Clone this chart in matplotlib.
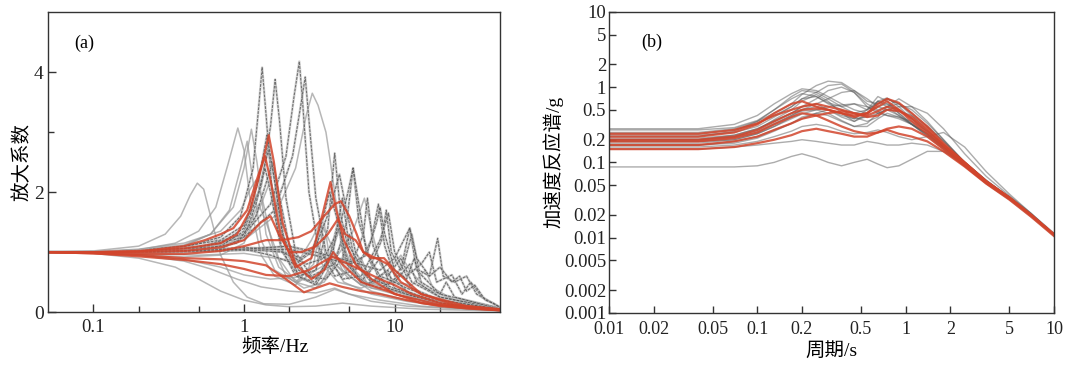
import numpy as np
import matplotlib
matplotlib.use("Agg")
import matplotlib.pyplot as plt
from matplotlib.ticker import FixedLocator, NullFormatter, NullLocator

plt.rcParams['font.family'] = ['Liberation Serif', 'Noto Sans CJK SC', 'DejaVu Sans']

# ---------------- panel (a): amplification factor vs frequency ----------------
# each curve = list of (frequency Hz, amplification)
gray_a_dark = [
    [(0.05,1.0),(0.1,1.0),(0.2,1.02),(0.4,1.08),(0.7,1.25),(0.95,1.6),(1.15,2.4),(1.25,3.4),(1.32,4.08),(1.4,3.3),(1.55,1.9),(1.8,1.0),(2.3,0.6),(3.0,0.7),(3.6,1.4),(4.0,2.65),(4.4,1.6),(5.2,0.8),(6.2,1.3),(6.6,1.9),(7.2,1.1),(9,0.6),(11,0.9),(13,0.5),(20,0.25),(50,0.06)],
    [(0.05,1.0),(0.1,1.0),(0.2,1.03),(0.4,1.1),(0.7,1.2),(1.0,1.45),(1.3,2.1),(1.5,3.1),(1.61,3.88),(1.72,3.2),(1.9,1.9),(2.2,1.0),(2.8,0.6),(4.0,0.8),(4.8,1.5),(5.3,2.4),(5.8,1.5),(7,0.8),(8.2,1.2),(8.8,1.7),(9.5,1.0),(11,0.7),(12.6,1.4),(14,0.7),(20,0.3),(50,0.07)],
    [(0.05,1.0),(0.1,1.0),(0.2,1.02),(0.5,1.08),(1.0,1.3),(1.5,1.8),(1.9,2.6),(2.15,3.6),(2.33,4.18),(2.45,3.5),(2.7,2.0),(3.1,1.1),(4,0.6),(5.5,0.7),(7.0,1.2),(7.8,1.8),(8.6,1.1),(10,0.6),(11.5,0.8),(13,1.3),(14.5,0.7),(17,0.6),(19.3,1.23),(21,0.6),(25,0.5),(30,0.6),(35,0.3),(50,0.08)],
    [(0.05,1.0),(0.1,1.0),(0.2,1.02),(0.5,1.07),(1.0,1.25),(1.6,1.7),(2.1,2.6),(2.4,3.5),(2.55,3.92),(2.7,3.2),(3.0,1.9),(3.5,1.0),(4.5,0.55),(6,0.6),(8,1.2),(9.1,1.65),(10,1.0),(12,0.6),(15,0.8),(17,1.0),(19,0.5),(24,0.62),(28,0.3),(32,0.5),(38,0.25),(50,0.08)],
    [(0.05,1.0),(0.1,1.0),(0.2,1.02),(0.4,1.05),(0.7,1.1),(1.0,1.35),(1.25,2.0),(1.45,2.7),(1.6,2.2),(1.85,1.2),(2.3,0.6),(3,0.45),(3.6,0.8),(4.2,1.5),(4.6,0.9),(6,0.5),(7.2,0.8),(8,0.5),(12,0.3),(20,0.15),(50,0.04)],
    [(0.05,1.0),(0.1,1.0),(0.2,1.0),(0.4,1.02),(0.7,1.05),(1.0,1.25),(1.2,1.8),(1.38,2.4),(1.5,2.0),(1.75,1.1),(2.2,0.6),(3,0.5),(3.8,1.0),(4.3,1.4),(4.8,0.8),(6.5,0.45),(8,0.6),(9,0.4),(14,0.25),(25,0.1),(50,0.03)],
    [(0.05,1.0),(0.1,1.0),(0.2,1.01),(0.5,1.04),(0.9,1.15),(1.2,1.6),(1.42,2.2),(1.55,2.5),(1.7,2.0),(2.0,1.1),(2.6,0.6),(3.5,0.55),(4.5,0.9),(5.0,1.3),(5.5,0.8),(7,0.5),(9,0.7),(10,0.4),(15,0.25),(30,0.1),(50,0.05)],
    [(0.05,1.0),(0.1,1.0),(0.2,1.0),(0.5,1.02),(1.0,1.05),(1.5,0.95),(2.2,0.8),(2.8,1.0),(3.3,1.5),(3.7,2.0),(4.1,1.6),(4.8,0.9),(6,0.5),(8,0.4),(10,0.55),(12,0.35),(20,0.15),(50,0.04)],
    [(0.05,1.0),(0.1,1.0),(0.2,1.01),(0.5,1.03),(1.0,1.08),(1.6,1.05),(2.4,0.9),(3.0,1.1),(3.7,1.7),(4.3,2.3),(4.7,1.8),(5.5,1.0),(7,0.55),(9,0.45),(11,0.65),(13,0.4),(20,0.2),(50,0.05)],
    [(0.05,1.0),(0.1,1.0),(0.2,1.0),(0.5,1.02),(1.0,1.05),(1.8,1.0),(2.6,0.8),(3.4,0.9),(4.3,1.4),(4.9,2.0),(5.3,2.4),(5.7,1.9),(6.5,1.0),(8,0.6),(10,0.5),(12.6,0.8),(14,0.5),(20,0.25),(50,0.06)],
    [(0.05,1.0),(0.1,1.0),(0.2,1.0),(0.5,1.01),(1.0,1.03),(2.0,1.05),(3.5,0.9),(5,0.8),(6.5,0.95),(7.6,1.5),(8.0,1.75),(8.6,1.3),(10,0.7),(12,0.55),(13.5,0.9),(15,0.5),(20,0.3),(22,0.5),(25,0.25),(50,0.05)],
    [(0.05,1.0),(0.1,1.0),(0.2,1.02),(0.4,1.06),(0.7,1.15),(1.0,1.4),(1.25,2.2),(1.42,2.95),(1.55,2.4),(1.8,1.3),(2.3,0.7),(3,0.55),(3.9,1.0),(4.5,1.9),(5.0,1.1),(6.5,0.6),(8,0.9),(9,0.55),(12,0.4),(20,0.2),(50,0.05)],
    [(0.05,1.0),(0.1,1.0),(0.2,1.01),(0.5,1.03),(1.0,1.05),(2,1.1),(3,1.0),(5,0.85),(8,0.7),(10,0.9),(12.6,1.4),(14,0.9),(17,0.6),(20,0.75),(24,0.5),(27,0.6),(30,0.35),(34,0.45),(40,0.2),(45,0.15),(50,0.08)],
]
gray_a_light = [
    [(0.05,1.0),(0.1,1.02),(0.2,1.1),(0.3,1.3),(0.38,1.6),(0.44,1.95),(0.49,2.15),(0.54,2.05),(0.6,1.6),(0.7,0.95),(0.85,0.5),(1.05,0.25),(1.35,0.14),(2.0,0.13),(3.0,0.25),(4.0,0.38),(5.0,0.3),(7,0.18),(12,0.1),(25,0.06),(50,0.03)],
    [(0.05,1.0),(0.1,1.0),(0.2,1.04),(0.35,1.15),(0.5,1.35),(0.65,1.75),(0.78,2.45),(0.91,3.07),(1.0,2.7),(1.12,1.7),(1.3,0.95),(1.6,0.6),(2.2,0.45),(2.7,0.75),(3.0,1.2),(3.3,0.8),(4.2,0.5),(6,0.4),(8,0.55),(10,0.3),(15,0.2),(25,0.1),(50,0.05)],
    [(0.05,1.0),(0.1,1.0),(0.2,1.03),(0.4,1.1),(0.6,1.3),(0.8,1.7),(0.95,2.4),(1.05,2.85),(1.13,2.3),(1.3,1.2),(1.6,0.7),(2.2,0.5),(2.9,0.8),(3.2,1.4),(3.5,0.9),(4.5,0.6),(5.5,0.9),(6.5,0.5),(10,0.35),(20,0.15),(50,0.05)],
    [(0.05,1.0),(0.1,1.0),(0.2,1.04),(0.4,1.12),(0.6,1.3),(0.85,1.75),(1.0,2.4),(1.12,3.05),(1.22,2.5),(1.4,1.3),(1.7,0.75),(2.3,0.5),(3.0,0.7),(3.4,1.5),(3.7,0.9),(5,0.55),(6,0.9),(7,0.5),(10,0.35),(20,0.15),(50,0.05)],
    [(0.05,1.0),(0.1,1.0),(0.2,1.02),(0.5,1.06),(1.0,1.2),(1.6,1.6),(2.2,2.4),(2.6,3.3),(2.84,3.65),(3.1,3.45),(3.5,3.0),(3.7,2.6),(4.1,1.8),(4.6,1.1),(5.5,0.6),(7,0.45),(9,0.7),(11,0.95),(12.6,0.7),(16,0.4),(25,0.2),(50,0.06)],
    [(0.05,1.0),(0.1,0.99),(0.2,0.96),(0.4,0.92),(0.7,0.95),(1.0,1.15),(1.3,1.8),(1.5,2.2),(1.65,1.8),(1.9,1.0),(2.4,0.55),(3.2,0.45),(4.0,0.9),(4.5,1.2),(5,0.8),(7,0.4),(10,0.35),(15,0.2),(25,0.08),(50,0.03)],
    [(0.05,1.0),(0.1,1.0),(0.2,1.0),(0.4,1.0),(0.7,1.05),(1.0,1.3),(1.15,1.6),(1.25,1.8),(1.4,1.5),(1.7,0.9),(2.2,0.5),(3.0,0.4),(3.8,0.7),(4.2,0.9),(5,0.6),(7,0.35),(12,0.2),(25,0.08),(50,0.03)],
    [(0.05,1.0),(0.1,1.0),(0.2,0.98),(0.5,0.95),(1.0,0.98),(1.6,0.9),(2.3,0.85),(2.8,1.2),(3.2,1.5),(3.6,1.25),(4.5,0.7),(6,0.45),(8,0.55),(9,0.4),(14,0.25),(30,0.08),(50,0.04)],
    [(0.05,1.0),(0.1,1.0),(0.2,0.96),(0.4,0.88),(0.7,0.75),(1.0,0.62),(1.5,0.55),(2.2,0.58),(3.0,0.7),(3.8,0.85),(4.5,0.7),(6,0.45),(10,0.3),(20,0.12),(50,0.04)],
    [(0.05,1.0),(0.1,0.99),(0.2,0.95),(0.4,0.85),(0.6,0.72),(0.9,0.55),(1.3,0.42),(2.0,0.35),(3.0,0.32),(4.0,0.4),(5,0.3),(8,0.2),(15,0.1),(50,0.03)],
    [(0.05,1.0),(0.1,1.0),(0.2,1.0),(0.5,1.02),(1.0,1.06),(2.0,1.1),(3.0,0.95),(4.2,0.95),(5.2,1.3),(6.3,1.9),(7.0,1.4),(8,0.8),(10,0.5),(13,0.45),(16,0.7),(18,0.4),(25,0.2),(50,0.05)],
    [(0.05,1.0),(0.1,1.01),(0.2,1.05),(0.4,1.15),(0.7,1.35),(0.95,1.7),(1.1,2.05),(1.2,2.2),(1.32,1.9),(1.55,1.1),(1.9,0.6),(2.5,0.4),(3.4,0.5),(4.0,0.75),(4.6,0.5),(7,0.3),(12,0.18),(25,0.07),(50,0.03)],
    [(0.05,1.0),(0.1,0.98),(0.2,0.9),(0.35,0.75),(0.5,0.55),(0.7,0.35),(1.0,0.2),(1.4,0.12),(2.0,0.09),(3,0.1),(4.5,0.15),(7,0.1),(15,0.05),(50,0.02)],
]
red_a = [
    [(0.05,1.0),(0.1,1.0),(0.2,1.02),(0.4,1.06),(0.7,1.15),(0.9,1.3),(1.1,1.7),(1.3,2.4),(1.46,2.95),(1.58,2.5),(1.8,1.5),(2.2,0.8),(2.8,0.55),(3.4,0.7),(3.9,1.0),(4.5,0.8),(6,0.5),(9,0.35),(15,0.15),(30,0.06),(50,0.03)],
    [(0.05,1.0),(0.1,1.0),(0.2,1.01),(0.4,1.1),(0.55,1.2),(0.7,1.3),(0.85,1.4),(1.05,1.7),(1.25,2.3),(1.38,2.6),(1.5,2.2),(1.75,1.3),(2.2,0.75),(2.8,0.9),(3.3,1.6),(3.75,2.17),(4.1,1.7),(4.6,1.2),(5.5,0.8),(7,0.55),(10,0.3),(20,0.12),(50,0.04)],
    [(0.05,1.0),(0.1,0.99),(0.2,0.97),(0.4,0.97),(0.7,1.02),(1.0,1.1),(1.4,1.2),(1.8,1.2),(2.3,1.25),(2.8,1.35),(3.4,1.6),(4.0,1.8),(4.4,1.85),(5.0,1.6),(5.6,1.3),(6.2,1.0),(7,0.9),(8.5,0.9),(10,0.7),(15,0.3),(30,0.1),(50,0.04)],
    [(0.05,1.0),(0.1,0.98),(0.2,0.93),(0.4,0.87),(0.7,0.8),(1.0,0.72),(1.4,0.62),(2.0,0.6),(2.7,0.7),(3.4,0.85),(3.9,0.92),(4.5,0.85),(6,0.7),(8,0.55),(10,0.45),(13,0.3),(20,0.15),(30,0.08),(50,0.03)],
    [(0.05,1.0),(0.1,0.98),(0.2,0.95),(0.4,0.9),(0.7,0.88),(1.0,0.85),(1.4,0.78),(1.9,0.55),(2.5,0.33),(3.0,0.4),(3.7,0.48),(4.5,0.42),(6,0.35),(8,0.3),(12,0.2),(20,0.1),(50,0.03)],
    [(0.05,1.0),(0.1,1.0),(0.2,1.0),(0.4,1.02),(0.7,1.08),(1.0,1.2),(1.3,1.5),(1.5,1.6),(1.7,1.3),(2.0,1.0),(2.4,1.0),(3,1.1),(3.6,1.3),(4.2,1.55),(4.7,1.3),(5.5,1.2),(6.2,1.0),(7.5,0.9),(9,0.8),(11,0.5),(15,0.3),(25,0.12),(50,0.05)],
]

# ---------------- panel (b): acceleration response spectra ----------------
periods = [0.01, 0.04, 0.07, 0.1, 0.13, 0.17, 0.2, 0.25, 0.3, 0.37, 0.45, 0.55,
           0.65, 0.75, 0.9, 1.1, 1.4, 1.8, 2.5, 3.5, 5.0, 7.0, 10.0]
gray_b = [
    [0.25,0.25,0.28,0.35,0.45,0.6,0.8,1.05,1.2,1.15,0.9,0.65,0.6,0.7,0.6,0.45,0.3,0.19,0.1,0.056,0.034,0.02,0.011],
    [0.22,0.22,0.26,0.35,0.5,0.75,0.9,0.85,0.7,0.55,0.45,0.5,0.65,0.55,0.42,0.32,0.24,0.16,0.095,0.055,0.033,0.02,0.011],
    [0.2,0.2,0.23,0.28,0.35,0.45,0.55,0.7,0.9,1.0,0.85,0.6,0.5,0.55,0.6,0.5,0.33,0.2,0.1,0.057,0.034,0.02,0.011],
    [0.19,0.19,0.21,0.25,0.32,0.42,0.5,0.55,0.5,0.42,0.38,0.5,0.75,0.65,0.45,0.32,0.22,0.15,0.09,0.053,0.033,0.02,0.011],
    [0.2,0.2,0.22,0.27,0.37,0.5,0.65,0.8,0.65,0.45,0.35,0.42,0.65,0.72,0.55,0.38,0.25,0.16,0.095,0.055,0.034,0.02,0.011],
    [0.17,0.17,0.19,0.22,0.27,0.33,0.38,0.45,0.5,0.45,0.38,0.4,0.45,0.5,0.55,0.55,0.45,0.28,0.13,0.065,0.036,0.021,0.011],
    [0.16,0.16,0.17,0.19,0.22,0.26,0.3,0.32,0.3,0.26,0.24,0.25,0.27,0.25,0.22,0.2,0.22,0.25,0.16,0.075,0.038,0.021,0.011],
    [0.087,0.087,0.087,0.09,0.1,0.12,0.13,0.115,0.1,0.09,0.1,0.11,0.095,0.085,0.09,0.11,0.14,0.14,0.1,0.058,0.034,0.02,0.011],
    [0.15,0.15,0.16,0.17,0.18,0.19,0.2,0.19,0.18,0.17,0.17,0.19,0.18,0.17,0.17,0.18,0.17,0.14,0.09,0.052,0.032,0.019,0.0105],
    [0.28,0.28,0.32,0.42,0.6,0.82,0.95,0.9,0.75,0.6,0.5,0.45,0.55,0.6,0.5,0.38,0.26,0.17,0.1,0.057,0.035,0.021,0.0115],
    [0.24,0.24,0.27,0.33,0.42,0.55,0.7,0.85,1.05,1.1,0.85,0.55,0.45,0.42,0.4,0.35,0.26,0.17,0.1,0.056,0.034,0.02,0.011],
    [0.18,0.18,0.2,0.24,0.3,0.38,0.44,0.5,0.55,0.58,0.6,0.5,0.6,0.7,0.6,0.42,0.27,0.17,0.095,0.054,0.033,0.02,0.011],
    [0.21,0.21,0.23,0.28,0.36,0.45,0.55,0.6,0.5,0.4,0.35,0.45,0.65,0.6,0.45,0.33,0.24,0.16,0.092,0.054,0.033,0.02,0.011],
    [0.23,0.23,0.25,0.3,0.4,0.55,0.7,0.75,0.6,0.5,0.4,0.35,0.4,0.55,0.7,0.55,0.35,0.2,0.1,0.056,0.034,0.02,0.011],
    [0.17,0.17,0.18,0.21,0.26,0.33,0.4,0.45,0.42,0.35,0.3,0.3,0.38,0.45,0.4,0.32,0.23,0.15,0.09,0.053,0.033,0.02,0.011],
    [0.2,0.2,0.22,0.26,0.33,0.42,0.5,0.6,0.7,0.85,0.9,0.7,0.55,0.5,0.48,0.42,0.3,0.19,0.1,0.056,0.034,0.02,0.011],
    [0.19,0.19,0.2,0.24,0.3,0.4,0.48,0.5,0.45,0.36,0.3,0.33,0.45,0.5,0.42,0.32,0.23,0.155,0.09,0.053,0.033,0.02,0.011],
    [0.27,0.27,0.29,0.36,0.5,0.7,0.82,0.75,0.62,0.55,0.6,0.55,0.48,0.42,0.38,0.32,0.24,0.16,0.095,0.055,0.034,0.02,0.011],
]
red_b = [
    [0.22,0.22,0.25,0.32,0.45,0.6,0.65,0.55,0.5,0.45,0.42,0.45,0.55,0.65,0.5,0.35,0.24,0.16,0.095,0.055,0.034,0.02,0.011],
    [0.2,0.2,0.22,0.27,0.35,0.45,0.5,0.52,0.5,0.45,0.4,0.45,0.6,0.7,0.62,0.45,0.3,0.18,0.1,0.056,0.034,0.02,0.011],
    [0.17,0.17,0.19,0.22,0.27,0.33,0.38,0.42,0.45,0.48,0.45,0.4,0.42,0.5,0.48,0.4,0.28,0.17,0.095,0.055,0.034,0.02,0.011],
    [0.15,0.15,0.16,0.18,0.2,0.23,0.26,0.28,0.26,0.24,0.22,0.22,0.25,0.28,0.3,0.28,0.22,0.15,0.09,0.053,0.033,0.02,0.011],
    [0.24,0.24,0.27,0.33,0.42,0.5,0.55,0.6,0.55,0.5,0.45,0.42,0.48,0.55,0.5,0.38,0.26,0.17,0.1,0.056,0.034,0.02,0.011],
    [0.19,0.19,0.21,0.25,0.32,0.4,0.45,0.42,0.36,0.3,0.26,0.24,0.25,0.27,0.24,0.22,0.19,0.14,0.088,0.052,0.032,0.019,0.0105],
]

b_ticks = [0.001, 0.002, 0.005, 0.01, 0.02, 0.05, 0.1, 0.2, 0.5, 1, 2, 5, 10]
b_ticklabels = ['0.001', '0.002', '0.005', '0.01', '0.02', '0.05', '0.1', '0.2', '0.5', '1', '2', '5', '10']
b_xticks = [0.01, 0.02, 0.05, 0.1, 0.2, 0.5, 1, 2, 5, 10]
b_xticklabels = ['0.01', '0.02', '0.05', '0.1', '0.2', '0.5', '1', '2', '5', '10']

RED = '#d2452c'
EDGE = '#333333'

fig = plt.figure(figsize=(10.71, 3.72), dpi=100)
ax1 = fig.add_axes([0.0448, 0.161, 0.422, 0.806])
ax2 = fig.add_axes([0.5686, 0.159, 0.4155, 0.809])

# panel (a)
for c in gray_a_light:
    f, a = zip(*c)
    ax1.plot(f, a, color='#999999', lw=1.1, alpha=0.7)
for c in gray_a_dark:
    f, a = zip(*c)
    ax1.plot(f, a, color='#b5b5b5', lw=1.8, alpha=0.55)
    ax1.plot(f, a, color='#3a3a3a', lw=0.8, alpha=0.65, dashes=(2.5, 1.0))
for c in red_a:
    f, a = zip(*c)
    ax1.plot(f, a, color=RED, lw=1.6, alpha=0.85)

ax1.set_xscale('log')
ax1.set_xlim(0.05, 50)
ax1.set_ylim(0, 5)
ax1.xaxis.set_major_locator(FixedLocator([0.1, 1, 10]))
ax1.set_xticklabels(['0.1', '1', '10'])
ax1.xaxis.set_minor_locator(FixedLocator([0.2, 0.5, 2, 5, 20]))
ax1.xaxis.set_minor_formatter(NullFormatter())
ax1.set_yticks([0, 2, 4])
ax1.set_yticklabels(['0', '2', '4'])
ax1.yaxis.set_minor_locator(FixedLocator([1, 3]))
ax1.text(0.08, 0.897, '(a)', transform=ax1.transAxes, fontsize=13, ha='center', va='center')
ax1.set_xlabel('频率/Hz', fontsize=14)
ax1.set_ylabel('放大系数', fontsize=14)
ax1.xaxis.set_label_coords(0.502, -0.087)
ax1.yaxis.set_label_coords(-0.036, 0.5)

# panel (b)
for s in gray_b:
    ax2.plot(periods, s, color='#5a5a5a', lw=1.0, alpha=0.5)
for s in red_b:
    ax2.plot(periods, s, color=RED, lw=1.6, alpha=0.85)

ax2.set_xscale('log')
ax2.set_yscale('log')
ax2.set_xlim(0.01, 10)
ax2.set_ylim(0.001, 10)
ax2.xaxis.set_major_locator(FixedLocator(b_xticks))
ax2.set_xticklabels(b_xticklabels)
ax2.yaxis.set_major_locator(FixedLocator(b_ticks))
ax2.set_yticklabels(b_ticklabels)
ax2.xaxis.set_minor_locator(NullLocator())
ax2.yaxis.set_minor_locator(NullLocator())
ax2.text(0.097, 0.90, '(b)', transform=ax2.transAxes, fontsize=13, ha='center', va='center')
ax2.set_xlabel('周期/s', fontsize=14)
ax2.set_ylabel('加速度反应谱/g', fontsize=14)
ax2.xaxis.set_label_coords(0.50, -0.096)
ax2.yaxis.set_label_coords(-0.103, 0.5)

for ax in (ax1, ax2):
    for sp in ax.spines.values():
        sp.set_color(EDGE)
        sp.set_linewidth(1.0)
    ax.tick_params(which='both', direction='in', colors=EDGE, labelcolor='#222222',
                   labelsize=14, width=1.0, pad=3)
    ax.tick_params(which='major', length=6)
    ax.tick_params(which='minor', length=4)
ax1.tick_params(axis='x', which='both', pad=5, labelsize=13.5)
ax2.tick_params(which='major', length=5, labelsize=13.5, pad=2)
ax2.tick_params(axis='x', which='major', pad=6, labelsize=13)

fig.savefig('out.png', dpi=100)
